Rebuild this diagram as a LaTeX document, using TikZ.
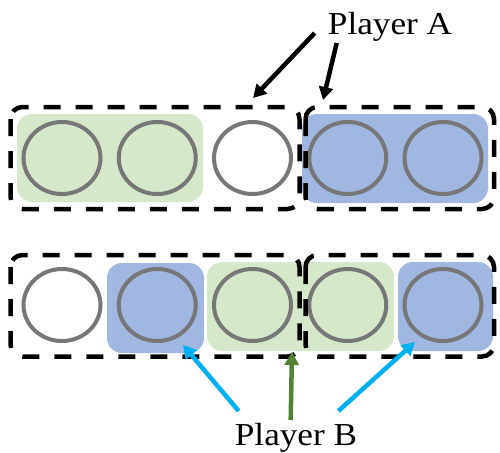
\documentclass[tikz,border=0pt]{standalone}
\usepackage{fontspec}
\setmainfont{Liberation Serif}
\usetikzlibrary{positioning,shapes.geometric,arrows.meta}
\definecolor{slotgray}{HTML}{777777}
\definecolor{lightgreen}{HTML}{D5E8C9}
\definecolor{lightblue}{HTML}{A0B7E1}
\definecolor{skyblue}{HTML}{00B0F0}
\definecolor{darkgreen}{HTML}{548235}

\begin{document}
\begin{tikzpicture}[x=1pt,y=-1pt]
            \tikzstyle{slot}=[draw=slotgray,line width=4pt,ellipse,inner sep=0pt,minimum width=77pt,minimum height=72pt,node distance=95.25pt]
            \tikzstyle{group}=[draw=black,line width=4.5pt,dash pattern=on 17pt off 15pt,rounded corners=12pt]
            \tikzstyle{run}=[rounded corners=15pt]
            \tikzstyle{label text}=[font=\fontsize{32}{38}\selectfont,anchor=base,inner sep=0pt,xscale=1.1,transform shape]
            \tikzstyle{pointer}=[line width=4.5pt,-{Triangle[length=13pt,width=14pt]}]
            \useasboundingbox (0,0) rectangle (500,452);

            \fill[run,lightgreen] (17,114) rectangle (203,202);
            \fill[run,lightblue] (302,114) rectangle (488,203);
            \fill[run,lightblue] (107,263) rectangle (204,353);
            \fill[run,lightgreen] (207,262) rectangle (394,351);
            \fill[run,lightblue] (398,262) rectangle (493,351);

            \node[slot] (a1) at (62,158) {};
            \node[slot] (a2) [right of=a1] {};
            \node[slot] (a3) [right of=a2] {};
            \node[slot] (a4) [right of=a3] {};
            \node[slot] (a5) [right of=a4] {};

            \node[slot] (b1) at (62,305) {};
            \node[slot] (b2) [right of=b1] {};
            \node[slot] (b3) [right of=b2] {};
            \node[slot] (b4) [right of=b3] {};
            \node[slot] (b5) [right of=b4] {};

            \draw[group] (10.5,107) rectangle (299.5,209);
            \draw[group] (305.5,107) rectangle (494,209);
            \draw[group] (10.5,255) rectangle (299.5,356.5);
            \draw[group] (305.5,255) rectangle (494,356.5);

            \node[label text] (pa) at (390,35) {Player A};
            \node[label text] (pb) at (296,445) {Player B};

            \coordinate (ta1) at (253,98);
            \coordinate (ta2) at (323,100);
            \coordinate (tb1) at (183,345);
            \coordinate (tb2) at (292,352);
            \coordinate (tb3) at (415,342);

            \draw[pointer,black] ([shift={(-13,-2)}]pa.base west) -- (ta1);
            \draw[pointer,black] ([shift={(9,8)}]pa.base west) -- (ta2);
            \draw[pointer,skyblue] ([shift={(4,-34)}]pb.base west) -- (tb1);
            \draw[pointer,darkgreen] ([shift={(56,-25)}]pb.base west) -- (tb2);
            \draw[pointer,skyblue] ([shift={(-19,-34)}]pb.base east) -- (tb3);
        \end{tikzpicture}
\end{document}
